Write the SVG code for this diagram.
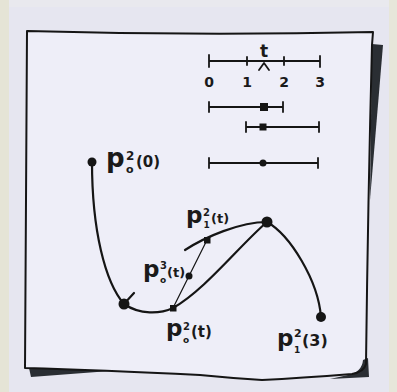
<svg xmlns="http://www.w3.org/2000/svg" width="397" height="392" viewBox="0 0 397 392">
<defs>
<style>
.ink{fill:none;stroke:#151515;stroke-linecap:round;stroke-linejoin:round}
.curve{stroke-width:2.2}
.thin{stroke-width:1.2}
.axis{stroke-width:1.8}
.dot{fill:#151515}
.shadow{fill:#2a2e33}
.lbl{font-family:"DejaVu Sans","Liberation Sans",sans-serif;font-weight:bold;fill:#1a1a1a}
</style>
</defs>
<!-- paper background -->
<rect x="0" y="0" width="397" height="392" fill="#e6e6f0"/>
<rect x="0" y="0" width="9" height="392" fill="#e5e4d6"/>
<rect x="389" y="0" width="8" height="392" fill="#e7e6da"/>
<rect x="9" y="0" width="380" height="7" fill="#e9e9ee"/>
<!-- sticky note -->
<g id="note">
<path d="M27,31 Q200,36 373,32 L372,45 Q368,200 366,364 Q364,372 352,374 Q300,378 262,380 Q230,378 200,375 Q100,370 25,368 Q26,200 27,31 Z" fill="#eeeef8"/>
<path class="shadow" d="M372,44 L383,45 L370,200 Z"/>
<path class="shadow" d="M348,375 Q362,372 363,360 L368,358 L369,377 L330,379 Z"/>
<path class="shadow" d="M29,368 L110,371 L31,377 Z"/>
<path class="ink" stroke-width="2" d="M27,31 Q200,36 373,32 L372,45 Q368,200 366,364 Q364,372 352,374 Q300,378 262,380 Q230,378 200,375 Q100,370 25,368 Q26,200 27,31 Z"/>
</g>
<!-- timeline -->
<g id="timeline">
<path class="ink axis" d="M209,61 H320 M209,55 V67 M320,56 V67 M247,57 V65 M284,57 V65"/>
<path class="ink axis" d="M259,70 L264,63 L269,70"/>
<text class="lbl" x="264" y="57" font-size="17" text-anchor="middle">t</text>
<text class="lbl" font-size="14" text-anchor="middle"><tspan x="209" y="87">0</tspan><tspan x="247" y="87">1</tspan><tspan x="284" y="87">2</tspan><tspan x="320" y="87">3</tspan></text>
<path class="ink axis" d="M209,107 H283 M209,102 V112 M283,102 V112"/>
<rect class="dot" x="260" y="103" width="8" height="8"/>
<path class="ink axis" d="M246,127 H319 M246,122 V132 M319,122 V132"/>
<rect class="dot" x="259.5" y="123.5" width="7" height="7"/>
<path class="ink axis" d="M209,163 H318 M209,158 V168 M318,158 V168"/>
<circle class="dot" cx="263" cy="163" r="3.5"/>
</g>
<!-- connectors -->
<g id="connectors">
<path class="ink curve" d="M92,162 C92,230 105,282 124,304"/>
<path class="ink curve" d="M124,304 C140,315 160,314 173,308 C205,290 240,245 267,222"/>
<path class="ink curve" d="M185,250 C205,237 240,222 267,222"/>
<path class="ink curve" d="M267,222 C290,235 318,280 321,317"/>
<path class="ink curve" d="M123,305 L134,293"/>
<path class="ink thin" d="M173,308 L207,240"/>
</g>
<!-- nodes -->
<g id="p0-2-0">
<circle class="dot" cx="92" cy="162" r="4.5"/>
<text class="lbl"><tspan x="106" y="167" font-size="26">p</tspan><tspan x="126" y="160" font-size="12">2</tspan><tspan x="126" y="173" font-size="11">o</tspan><tspan x="136" y="167" font-size="15">(0)</tspan></text>
</g>
<g id="p0-2-1">
<circle class="dot" cx="124" cy="304" r="5.5"/>
</g>
<g id="p1-2-t">
<rect class="dot" x="204" y="237" width="6.5" height="6.5"/>
<text class="lbl"><tspan x="186" y="223" font-size="23">p</tspan><tspan x="203" y="216" font-size="10">2</tspan><tspan x="203.5" y="228" font-size="9">1</tspan><tspan x="211" y="223" font-size="13">(t)</tspan></text>
</g>
<g id="p0-3-t">
<circle class="dot" cx="189" cy="276" r="3.5"/>
<text class="lbl"><tspan x="143" y="277" font-size="23">p</tspan><tspan x="160" y="269" font-size="10">3</tspan><tspan x="160" y="283" font-size="9">o</tspan><tspan x="167" y="277" font-size="13">(t)</tspan></text>
</g>
<g id="p0-2-t">
<rect class="dot" x="170" y="305" width="6.5" height="6.5"/>
<text class="lbl"><tspan x="166" y="336" font-size="23">p</tspan><tspan x="183" y="330" font-size="10">2</tspan><tspan x="183" y="343" font-size="9">o</tspan><tspan x="191" y="337" font-size="15">(t)</tspan></text>
</g>
<g id="p1-2-2">
<circle class="dot" cx="267" cy="222" r="5.5"/>
</g>
<g id="p1-2-3">
<circle class="dot" cx="321" cy="317" r="5"/>
<text class="lbl"><tspan x="277" y="346" font-size="23">p</tspan><tspan x="294" y="337" font-size="11">2</tspan><tspan x="294" y="353" font-size="9">1</tspan><tspan x="302" y="346" font-size="16">(3)</tspan></text>
</g>
</svg>
